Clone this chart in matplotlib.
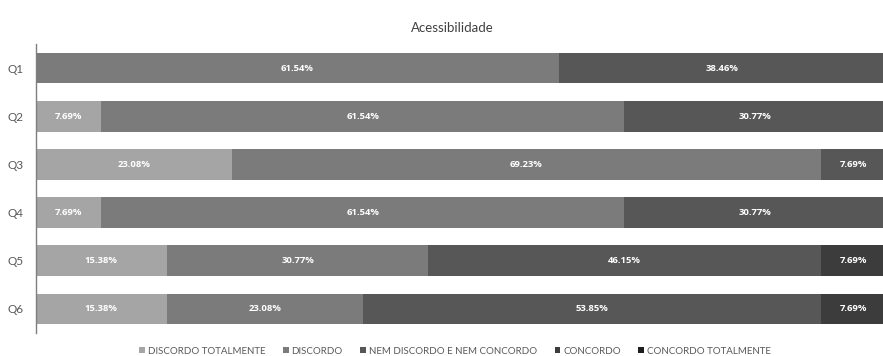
import matplotlib
matplotlib.use("Agg")
import matplotlib.pyplot as plt
import numpy as np

plt.rcParams['font.family'] = ['Lato', 'DejaVu Sans']

questions = ["Q1", "Q2", "Q3", "Q4", "Q5", "Q6"]
categories = ["DISCORDO TOTALMENTE", "DISCORDO", "NEM DISCORDO E NEM CONCORDO",
              "CONCORDO", "CONCORDO TOTALMENTE"]
discordo_totalmente = [0, 7.69, 23.08, 7.69, 15.38, 15.38]
discordo = [61.54, 61.54, 69.23, 61.54, 30.77, 23.08]
nem = [38.46, 30.77, 7.69, 30.77, 46.15, 53.85]
concordo = [0, 0, 0, 0, 7.69, 7.69]
concordo_totalmente = [0, 0, 0, 0, 0, 0]
title = "Acessibilidade"

series = [discordo_totalmente, discordo, nem, concordo, concordo_totalmente]
colors = ["#a5a5a5", "#7b7b7b", "#575757", "#3c3c3c", "#1e1e1e"]

fig = plt.figure(figsize=(8.83, 3.56), dpi=100)
ax = fig.add_axes([36/883, 1-333/356, 850/883, (333-44)/356])

y = np.arange(len(questions))
left = np.zeros(len(questions))
for vals, col, name in zip(series, colors, categories):
    vals = np.array(vals, dtype=float)
    ax.barh(y, vals, left=left, height=0.64, color=col, label=name, edgecolor='none')
    for yi, (l, v) in enumerate(zip(left, vals)):
        if v > 0:
            ax.text(l + v/2, yi, f"{v:.2f}%", ha='center', va='center',
                    color='white', fontsize=6.8, fontweight='bold',
                    family=['Open Sans', 'DejaVu Sans'])
    left += vals

ax.set_xlim(0, 100)
ax.set_ylim(5.5, -0.5)
ax.set_yticks(y)
ax.set_yticklabels(questions, color='#595959', fontsize=8.5)
ax.tick_params(axis='y', length=0, pad=9)
ax.set_xticks([])
for s in ['top', 'right', 'bottom']:
    ax.spines[s].set_visible(False)
ax.spines['left'].set_color('#7f7f7f')
ax.spines['left'].set_linewidth(1)

fig.text(452/883, 1-28/356, title, ha='center', va='center', fontsize=9.5, color='#404040')

handles, labels = ax.get_legend_handles_labels()
fig.legend(handles, labels, loc='center', bbox_to_anchor=(455/883, 1-351/356), ncol=5,
           frameon=False, fontsize=7, handlelength=0.6, handleheight=0.6,
           columnspacing=1.8, handletextpad=0.3, labelcolor='#595959')

fig.savefig("out.png", dpi=100)
